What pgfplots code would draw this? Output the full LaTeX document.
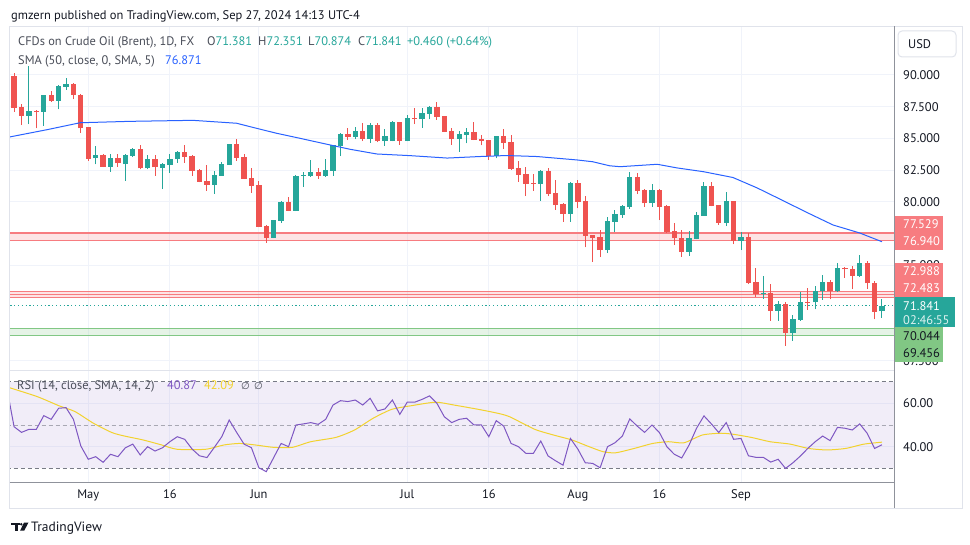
\documentclass[border=0pt]{standalone}
\usepackage{fontspec}
\setmainfont{PT Sans}
\newfontfamily\symf{DejaVu Sans}
\usepackage{pgfplots}
\pgfplotsset{compat=1.18}
\usepackage{pgfplotstable}

\definecolor{up}{HTML}{26A69A}
\definecolor{dn}{HTML}{EF5350}
\definecolor{txt}{HTML}{131722}
\definecolor{leg}{HTML}{4A4E59}
\definecolor{gridc}{HTML}{F0F3FA}
\definecolor{framec}{HTML}{E0E3EB}
\definecolor{scalec}{HTML}{8F929B}
\definecolor{smac}{HTML}{2962FF}
\definecolor{rsic}{HTML}{7E57C2}
\definecolor{rsima}{HTML}{F2D22E}
\definecolor{bandline}{HTML}{787B86}
\definecolor{zred}{HTML}{F77C80}
\definecolor{zgreen}{HTML}{81C784}

% up candles: index, open, high, low, close
\pgfplotstableread{
i o h l c
2 86.80 90.71 86.14 87.17
4 87.11 88.45 86.01 88.43
6 87.98 89.21 87.30 89.13
7 89.08 89.79 88.82 89.27
11 83.44 84.43 82.97 83.70
13 82.78 83.78 82.39 83.44
15 82.99 83.78 81.68 83.70
16 83.65 84.25 83.54 84.15
18 82.65 83.70 82.57 83.36
20 82.70 83.09 81.02 82.99
21 82.91 83.78 82.31 83.36
22 83.36 84.04 83.09 83.94
27 81.34 82.46 80.63 82.13
28 82.05 83.17 82.05 82.99
29 82.91 84.60 82.91 84.57
35 77.19 78.60 77.15 78.58
36 78.53 80.08 78.37 80.00
38 79.31 82.13 79.28 82.05
39 82.05 82.39 81.20 82.14
40 82.05 83.31 82.00 82.36
42 82.05 83.39 82.00 82.52
43 82.46 84.52 82.05 84.49
44 84.43 85.46 83.62 85.35
46 85.14 85.93 84.94 85.59
48 84.98 86.20 84.67 86.09
50 84.80 85.72 84.43 85.20
51 84.80 86.38 84.78 86.30
53 84.80 86.85 84.78 86.61
55 86.51 87.38 85.85 87.03
56 86.93 87.58 86.51 87.46
60 84.96 85.59 83.96 85.35
61 85.30 85.85 84.62 85.51
65 83.62 85.22 83.44 85.20
71 81.42 82.52 80.08 82.44
75 79.06 81.60 78.45 81.52
80 76.22 78.84 75.98 78.50
81 78.45 79.37 77.66 79.06
82 78.98 79.76 78.76 79.69
83 79.63 82.36 79.47 81.97
86 79.90 81.42 79.63 80.94
91 76.09 77.72 75.75 77.14
92 77.09 79.19 77.06 78.98
93 78.92 81.55 78.90 81.26
96 78.37 80.79 78.11 80.08
98 76.95 77.66 76.22 77.22
101 72.81 74.17 72.40 72.87
103 71.44 72.23 70.65 71.95
105 69.71 71.10 69.09 70.77
106 70.71 72.91 70.65 72.10
108 72.09 73.39 71.55 72.97
109 72.97 74.25 72.31 73.68
111 72.97 75.17 72.95 74.80
114 74.19 75.80 74.09 75.17
117 71.381 72.351 70.874 71.841
}\upt

% down candles
\pgfplotstableread{
i o h l c
0 89.94 90.13 87.11 87.43
1 87.50 87.69 86.06 86.80
3 87.17 87.24 85.80 87.07
5 88.43 88.74 87.90 87.98
8 89.29 89.35 88.09 88.43
9 88.43 88.50 85.46 85.80
10 85.88 85.90 83.23 83.39
12 83.70 83.78 82.75 82.78
14 83.44 83.78 82.76 83.05
17 84.15 84.49 82.57 82.65
19 83.36 83.70 82.05 82.72
23 83.94 84.49 83.09 83.57
24 83.62 83.70 82.05 82.46
25 82.52 82.57 81.55 81.60
26 81.65 82.91 80.89 81.34
30 84.57 84.94 83.25 83.49
31 83.57 83.78 81.80 81.83
32 81.87 82.70 80.73 81.28
33 81.34 81.65 78.00 78.06
34 78.11 78.19 76.80 77.19
37 80.00 80.37 79.28 79.31
41 82.36 82.65 81.83 82.05
45 85.35 85.83 84.88 85.14
47 85.59 86.24 84.80 84.98
49 86.09 86.20 84.72 84.80
52 86.30 86.32 84.49 84.80
54 86.61 87.38 86.14 86.53
57 87.46 87.85 86.46 86.72
58 86.77 86.80 85.50 85.54
59 85.59 85.83 84.49 84.96
62 85.49 86.30 84.88 84.90
63 84.96 85.28 84.45 84.84
64 84.88 84.90 83.31 83.62
66 85.20 85.75 84.17 84.67
67 84.72 85.28 82.52 82.60
68 82.68 83.23 81.60 82.13
69 82.20 82.76 80.47 81.42
70 81.50 82.20 80.87 81.42
72 82.44 82.65 80.47 80.63
73 80.69 81.73 79.37 79.76
74 79.84 79.94 78.45 79.06
76 81.52 81.73 79.50 80.02
77 80.08 80.47 76.43 77.35
78 77.40 77.42 75.28 77.19
79 77.24 77.80 75.65 76.22
84 81.97 82.26 80.61 80.89
85 80.94 81.00 79.63 79.90
87 80.94 81.00 78.58 79.63
88 79.69 79.76 77.56 77.64
89 77.72 78.37 76.61 77.13
90 77.14 77.80 75.69 76.09
94 81.26 81.55 79.66 79.69
95 79.76 79.80 78.19 78.37
97 80.08 80.10 76.69 76.93
99 77.22 77.54 73.54 73.65
100 73.68 74.80 72.52 72.72
102 72.81 73.54 70.65 71.44
104 71.97 72.13 68.70 69.71
107 72.13 73.20 71.52 72.06
110 73.68 73.86 72.34 72.97
112 74.78 74.92 74.04 74.70
113 74.72 74.96 73.13 74.19
115 75.17 75.33 73.13 73.60
116 73.60 73.76 70.76 71.36
}\dnt

\pgfplotstableread{
i v
-1 67.5
0 49.2
1 46.6
2 48.0
3 48.0
4 54.3
5 52.6
6 57.7
7 58.0
8 52.6
9 40.3
10 34.2
11 35.4
12 32.8
13 36.5
14 35.4
15 39.5
16 41.2
17 36.2
18 40.0
19 38.0
20 39.5
21 42.3
22 44.6
23 43.4
24 38.9
25 35.8
26 35.0
27 39.7
28 44.6
29 52.3
30 46.6
31 41.2
32 39.5
33 30.3
34 28.5
35 35.0
36 41.5
37 40.0
38 50.0
39 50.5
40 51.1
41 50.3
42 52.6
43 59.2
44 61.2
45 60.8
46 61.5
47 59.2
48 62.3
49 56.5
50 57.4
51 61.5
52 54.9
53 60.5
54 60.5
55 61.8
56 63.4
57 60.0
58 53.8
59 51.1
60 52.6
61 53.1
62 50.0
63 50.0
64 44.6
65 52.0
66 49.5
67 41.5
68 40.0
69 36.9
70 36.9
71 42.6
72 35.7
73 33.5
74 31.5
75 43.8
76 38.9
77 32.6
78 32.3
79 30.3
80 40.0
81 41.8
82 44.9
83 52.8
84 49.5
85 46.6
86 50.0
87 46.5
88 40.0
89 36.5
90 34.8
91 40.8
92 48.5
93 54.2
94 50.5
95 46.5
96 51.1
97 43.4
98 43.8
99 35.8
100 35.1
101 35.1
102 32.9
103 34.2
104 30.0
105 32.6
106 35.7
107 39.2
108 42.3
109 44.9
110 42.8
111 48.9
112 48.5
113 47.7
114 50.5
115 46.2
116 39.2
117 40.87
}\rsit

\begin{document}
\begin{tikzpicture}[x=1pt,y=1pt]
\useasboundingbox (0,0) rectangle (970,-545);
\fill[white] (0,0) rectangle (970,-545);

% ---------------- main price pane
\begin{axis}[
  at={(10pt,-371pt)}, anchor=south west,
  scale only axis, width=884pt, height=345pt,
  xmin=-0.55, xmax=118.62, ymin=66.693, ymax=93.858,
  axis line style={draw=none},
  xtick={10,21,33,53,64,76,87,98}, xticklabels={},
  ytick={67.5,70,72.5,75,77.5,80,82.5,85,87.5,90},
  yticklabels={67.500,{},{},75.000,{},80.000,82.500,85.000,87.500,90.000},
  yticklabel pos=right,
  major tick length=0pt,
  grid=major, grid style={draw=gridc, line width=1pt},
  yticklabel style={font=\fontsize{12.5}{14}\selectfont, text=txt, anchor=west, inner sep=0pt, xshift=9pt},
]
% zones
\addplot[draw=none, fill=zred, fill opacity=0.2] coordinates {(-1,76.940) (120,76.940) (120,77.529) (-1,77.529)} -- cycle;
\addplot[zred, line width=1.8pt] coordinates {(-1,77.529) (120,77.529)};
\addplot[zred, line width=1pt] coordinates {(-1,76.940) (120,76.940)};
\addplot[draw=none, fill=zred, fill opacity=0.2] coordinates {(-1,72.483) (120,72.483) (120,72.988) (-1,72.988)} -- cycle;
\addplot[zred, line width=0.9pt] coordinates {(-1,72.988) (120,72.988)};
\addplot[zred, line width=0.9pt] coordinates {(-1,72.756) (120,72.756)};
\addplot[zred, line width=1.8pt] coordinates {(-1,72.483) (120,72.483)};
\addplot[draw=none, fill=zgreen, fill opacity=0.2] coordinates {(-1,69.456) (120,69.456) (120,70.044) (-1,70.044)} -- cycle;
\addplot[zgreen, line width=1pt] coordinates {(-1,70.044) (120,70.044)};
\addplot[zgreen, line width=1pt] coordinates {(-1,69.456) (120,69.456)};
% current price line
\addplot[up, line width=1pt, dash pattern=on 1.2pt off 2.6pt] coordinates {(-1,71.841) (120,71.841)};
% wicks
\addplot[draw=none, mark=none, error bars/.cd, y dir=plus, y explicit, error mark=none,
  error bar style={draw=up, line width=1pt}]
  table[x=i, y=l, y error expr=\thisrow{h}-\thisrow{l}] {\upt};
\addplot[draw=none, mark=none, error bars/.cd, y dir=plus, y explicit, error mark=none,
  error bar style={draw=dn, line width=1pt}]
  table[x=i, y=l, y error expr=\thisrow{h}-\thisrow{l}] {\dnt};
% bodies
\addplot[draw=none, mark=none, error bars/.cd, y dir=plus, y explicit, error mark=none,
  error bar style={draw=up, line width=5.3pt}]
  table[x=i, y=o, y error expr=\thisrow{c}-\thisrow{o}] {\upt};
\addplot[draw=none, mark=none, error bars/.cd, y dir=plus, y explicit, error mark=none,
  error bar style={draw=dn, line width=5.3pt}]
  table[x=i, y=c, y error expr=\thisrow{o}-\thisrow{c}] {\dnt};
% SMA 50
\addplot[smac, line width=1pt] coordinates {
(-0.6,85.12) (4.5,85.70) (8.9,86.24) (15.6,86.35) (24.1,86.43) (30.0,86.20) (32.7,85.80)
(35.4,85.41) (38.5,85.02) (41.6,84.62) (45.3,84.15) (48.9,83.78) (53.4,83.65) (58.4,83.46)
(62.8,83.58) (66.4,83.66) (70.5,83.58) (75.9,83.31) (78.0,83.17) (80.3,82.85) (81.7,82.78)
(86.7,82.97) (89.4,82.68) (92.9,82.39) (96.9,81.93) (100.2,81.10) (103.2,80.24) (106.9,79.17)
(110.4,78.19) (114.0,77.56) (117.0,76.871)};
\end{axis}

% ---------------- RSI pane
\begin{axis}[
  at={(10pt,-482.7pt)}, anchor=south west,
  scale only axis, width=884pt, height=111.7pt,
  xmin=-0.55, xmax=118.62, ymin=23.41, ymax=74.88,
  axis line style={draw=none},
  xtick={10,21,33,53,64,76,87,98}, xticklabels={May,16,Jun,Jul,16,Aug,16,Sep},
  ytick={40,60},
  yticklabel pos=right,
  major tick length=0pt,
  grid=major, grid style={draw=gridc, line width=1pt},
  yticklabel style={/pgf/number format/.cd, fixed, fixed zerofill, precision=2, assume math mode=true,
     /tikz/.cd, font=\fontsize{12.5}{14}\selectfont, text=txt, anchor=west, inner sep=0pt, xshift=9pt},
  xticklabel style={font=\fontsize{12.5}{14}\selectfont, text=txt, anchor=north, inner sep=0pt, yshift=-7pt},
]
\addplot[draw=none, fill=rsic, fill opacity=0.1] coordinates {(-1,30) (120,30) (120,70) (-1,70)} -- cycle;
\addplot[bandline, line width=0.9pt, dash pattern=on 4pt off 3pt] coordinates {(-1,70) (120,70)};
\addplot[bandline, line width=0.9pt, dash pattern=on 4pt off 3pt, opacity=0.6] coordinates {(-1,50) (120,50)};
\addplot[bandline, line width=0.9pt, dash pattern=on 4pt off 3pt] coordinates {(-1,30) (120,30)};
\addplot[rsima, line width=1pt, smooth, tension=0.4] coordinates {
(-1,67.6) (3.1,63.1) (6.1,58.8) (8.2,56.2) (10.7,50.8) (13.2,46.5) (14.9,44.9) (17.4,43.1)
(19.9,40.8) (22.0,38.8) (25.8,38.8) (28.3,40.8) (30.4,41.5) (32.5,40.8) (35.0,39.7) (37.5,39.7)
(40.0,42.3) (43.4,44.3) (45.9,47.7) (48.4,53.1) (50.9,57.2) (53.4,58.8) (56.8,60.5) (59.3,59.2)
(62.6,57.2) (65.2,55.4) (66.8,53.8) (70.2,48.0) (72.7,45.4) (75.2,43.1) (77.3,40.3) (79.4,37.7)
(81.1,37.2) (83.6,39.2) (86.1,41.5) (88.2,42.3) (90.3,41.8) (92.8,45.4) (95.3,46.2) (97.0,45.7)
(99.5,44.2) (101.9,42.3) (104.6,41.2) (107.1,39.2) (109.6,38.5) (112.1,39.2) (114.6,41.2) (117,42.09)};
\addplot[rsic, line width=1pt] table[x=i, y=v] {\rsit};
\end{axis}

% ---------------- frame and scale lines
\draw[framec, line width=1pt] (9.5,-26.5) rectangle (962,-508);
\draw[framec, line width=1pt] (9.5,-371) -- (894.5,-371);
\draw[scalec, line width=1pt] (894.5,-26.5) -- (894.5,-508);
\draw[scalec, line width=1pt] (9.5,-482.7) -- (894.5,-482.7);

% USD box
\draw[framec, line width=1pt, rounded corners=4pt] (898,-31) rectangle (956,-57);
\node[anchor=base west, inner sep=0pt, text=txt, font=\fontsize{12.5}{14}\selectfont] at (908,-48.3) {USD};

% price label boxes
\fill[zred] (895,-216) rectangle (943,-250);
\node[anchor=base west, inner sep=0pt, text=white, font=\fontsize{12.5}{14}\selectfont] at (903,-228.8) {77.529};
\node[anchor=base west, inner sep=0pt, text=white, font=\fontsize{12.5}{14}\selectfont] at (903,-245.3) {76.940};
\fill[zred] (895,-263) rectangle (943,-297);
\node[anchor=base west, inner sep=0pt, text=white, font=\fontsize{12.5}{14}\selectfont] at (903,-275.3) {72.988};
\node[anchor=base west, inner sep=0pt, text=white, font=\fontsize{12.5}{14}\selectfont] at (903,-292.6) {72.483};
\fill[up] (895,-297) rectangle (955,-327.5);
\node[anchor=base west, inner sep=0pt, text=white, font=\fontsize{12.5}{14}\selectfont] at (903,-310.3) {71.841};
\node[anchor=base west, inner sep=0pt, text=white!85!up, font=\fontsize{12.5}{14}\selectfont] at (903,-325) {02:46:55};
\fill[zgreen] (895,-327.5) rectangle (943,-362);
\node[anchor=base west, inner sep=0pt, text=txt, font=\fontsize{12.5}{14}\selectfont] at (903,-340.3) {70.044};
\node[anchor=base west, inner sep=0pt, text=txt, font=\fontsize{12.5}{14}\selectfont] at (903,-357.6) {69.456};

% header
\node[anchor=base west, inner sep=0pt, text=txt, font=\fontsize{12.5}{14}\selectfont] at (11,-19.5)
  {gmzern published on TradingView.com, Sep 27, 2024 14:13 UTC-4};

% legends
\begin{scope}[every node/.style={anchor=base west, inner sep=0pt, font=\fontsize{12.4}{14}\selectfont}]
\node[text=leg] at (18,-45.5) {CFDs on Crude Oil (Brent), 1D, FX};
\node[text=leg] at (207,-45.5) {O\textcolor{up}{71.381}};
\node[text=leg] at (258,-45.5) {H\textcolor{up}{72.351}};
\node[text=leg] at (308,-45.5) {L\textcolor{up}{70.874}};
\node[text=leg] at (358,-45.5) {C\textcolor{up}{71.841}};
\node[text=up] at (407,-45.5) {+0.460 (+0.64\%)};
\node[text=leg] at (18,-65) {SMA (50, close, 0, SMA, 5)};
\node[text=smac] at (165,-65) {76.871};
\node[text=leg] at (17,-389.3) {RSI (14, close, SMA, 14, 2)};
\node[text=rsic] at (167,-389.3) {40.87};
\node[text=rsima] at (204,-389.3) {42.09};
\node[text=leg] at (241,-389.3) {{\symf\fontsize{10}{12}\selectfont ∅}};
\node[text=leg] at (254,-389.3) {{\symf\fontsize{10}{12}\selectfont ∅}};
\end{scope}

% footer logo
\fill[txt] (11,-522.5) rectangle (19.5,-525.2);
\fill[txt] (15.3,-522.5) rectangle (18,-530.5);
\fill[txt] (21.3,-524.2) circle (1.4);
\fill[txt] (24,-522.5) -- (28.5,-522.5) -- (24.3,-530.5) -- (20.2,-530.5) -- cycle;
\node[anchor=base west, inner sep=0pt, text=txt, font=\fontsize{13.5}{15}\selectfont] at (31,-531.5) {TradingView};
\end{tikzpicture}
\end{document}
